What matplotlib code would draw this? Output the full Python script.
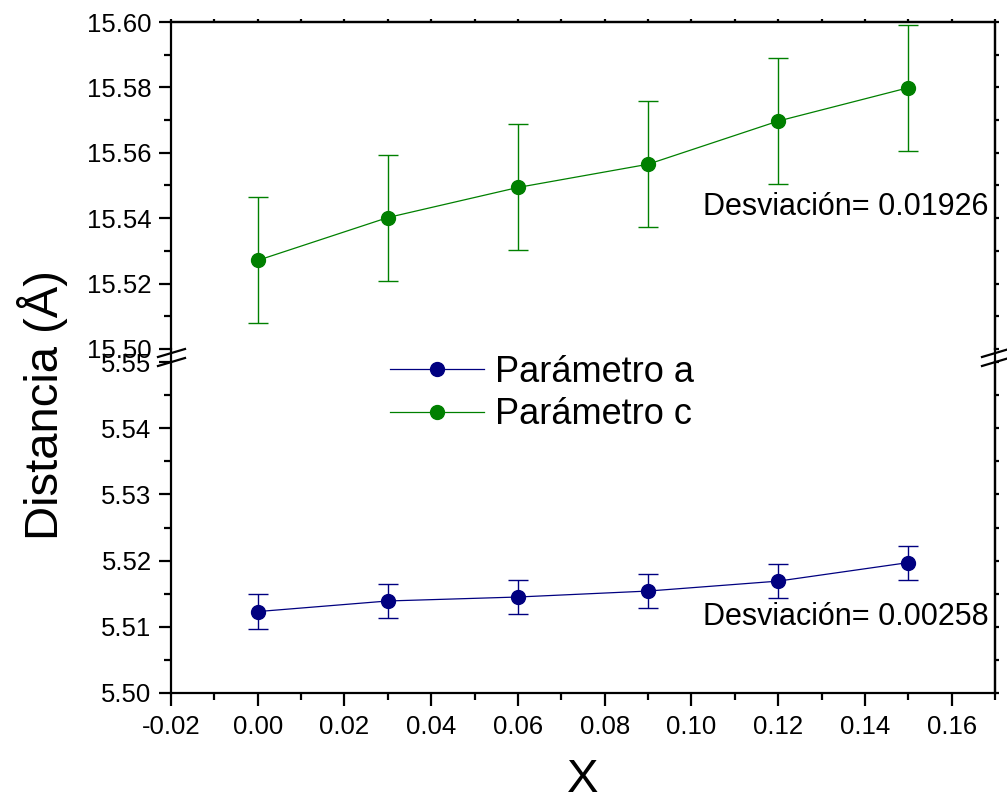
import matplotlib
matplotlib.use('Agg')
import matplotlib.pyplot as plt
from matplotlib.ticker import MultipleLocator, FormatStrFormatter, NullFormatter
from matplotlib.lines import Line2D

plt.rcParams['font.family'] = ['Liberation Sans', 'DejaVu Sans']
plt.rcParams['axes.unicode_minus'] = False

x = [0.00, 0.03, 0.06, 0.09, 0.12, 0.15]
param_a = [5.5123, 5.5139, 5.5145, 5.5154, 5.5169, 5.5197]
param_c = [15.5271, 15.5402, 15.5494, 15.5565, 15.5697, 15.5799]
err_a = 0.00258
err_c = 0.01926
labels = ['Parámetro a', 'Parámetro c']

W, H = 1007, 801
fig = plt.figure(figsize=(W / 100, H / 100), dpi=100)

left, right = 171 / W, 995 / W
top_ax = fig.add_axes([left, 1 - 349 / H, right - left, (349 - 22) / H])
bot_ax = fig.add_axes([left, 1 - 693 / H, right - left, (693 - 362) / H])

navy = '#000080'
green = '#008000'

ec = top_ax.errorbar(x, param_c, yerr=err_c, color=green, marker='o', ms=10,
                     lw=0.9, elinewidth=1, capsize=7, capthick=1, zorder=3)
ea = bot_ax.errorbar(x, param_a, yerr=err_a, color=navy, marker='o', ms=10,
                     lw=0.9, elinewidth=1, capsize=7, capthick=1, zorder=3)

top_ax.set_ylim(15.50, 15.60)
top_ax.yaxis.set_major_locator(MultipleLocator(0.02))
top_ax.yaxis.set_minor_locator(MultipleLocator(0.01))
bot_ax.set_ylim(5.50, 5.55)
bot_ax.yaxis.set_major_locator(MultipleLocator(0.01))
bot_ax.yaxis.set_minor_locator(MultipleLocator(0.005))

for ax in (top_ax, bot_ax):
    ax.set_xlim(-0.02, 0.17)
    ax.xaxis.set_major_locator(MultipleLocator(0.02))
    ax.xaxis.set_minor_locator(MultipleLocator(0.01))
    ax.xaxis.set_major_formatter(FormatStrFormatter('%.2f'))
    ax.yaxis.set_major_formatter(FormatStrFormatter('%.2f'))
    for s in ax.spines.values():
        s.set_linewidth(1.6)
    ax.tick_params(axis='both', which='major', labelsize=18.5, width=1.6,
                   length=9, direction='out', pad=5)
    ax.tick_params(axis='both', which='minor', width=1.6, length=5,
                   direction='out')
    ax.tick_params(axis='both', which='both', top=False, right=False)

    # tiny ticks along the right edge
    sec = ax.secondary_yaxis('right')
    sec.yaxis.set_major_locator(ax.yaxis.get_major_locator())
    sec.yaxis.set_minor_locator(ax.yaxis.get_minor_locator())
    sec.yaxis.set_major_formatter(NullFormatter())
    sec.tick_params(which='both', length=3, width=1.6, direction='out')
    sec.spines['right'].set_linewidth(1.6)

# tiny ticks along the top edge
sec_x = top_ax.secondary_xaxis('top')
sec_x.xaxis.set_major_locator(MultipleLocator(0.02))
sec_x.xaxis.set_minor_locator(MultipleLocator(0.01))
sec_x.xaxis.set_major_formatter(NullFormatter())
sec_x.tick_params(which='both', length=2, width=1.6, direction='out')
sec_x.spines['top'].set_linewidth(1.6)

top_ax.spines['bottom'].set_visible(False)
top_ax.tick_params(axis='x', which='both', bottom=False, labelbottom=False)
bot_ax.spines['top'].set_visible(False)
bot_ax.tick_params(axis='x', which='major', pad=7)

# spine across the gap and break marks
for xp in (171, 995):
    fig.add_artist(Line2D([xp / W, xp / W], [1 - 349 / H, 1 - 362 / H],
                          color='k', lw=1.6, transform=fig.transFigure))
    for yc in (353, 362):
        fig.add_artist(Line2D([(xp - 13) / W, (xp + 14) / W],
                              [1 - (yc + 4) / H, 1 - (yc - 4) / H],
                              color='k', lw=1.6, transform=fig.transFigure))

fig.text(703 / W, 1 - 215 / H, 'Desviación= 0.01926', fontsize=22,
         ha='left', va='baseline')
fig.text(703 / W, 1 - 625 / H, 'Desviación= 0.00258', fontsize=22,
         ha='left', va='baseline')

fig.text(42 / W, 1 - 405 / H, 'Distancia (Å)', fontsize=34, rotation=90,
         ha='center', va='center')
fig.text(583 / W, 1 - 792 / H, 'X', fontsize=34, ha='center', va='baseline')

fig.legend([ea[0], ec[0]], labels, loc='upper left',
           bbox_to_anchor=(390 / W, 1 - 355 / H), frameon=False,
           fontsize=26, handlelength=2.6, handletextpad=0.3,
           labelspacing=0.2, borderpad=0, borderaxespad=0)

fig.savefig('out.png', dpi=100)
